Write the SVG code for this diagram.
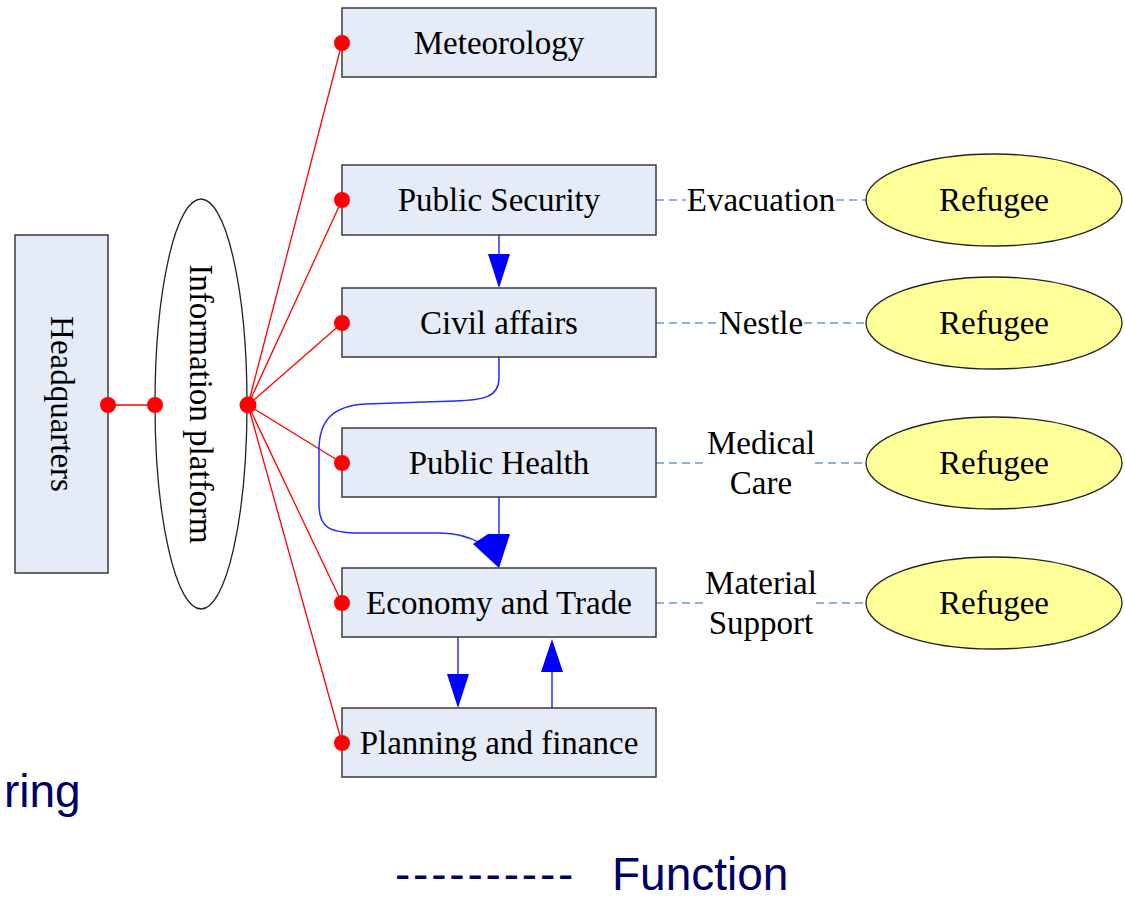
<svg xmlns="http://www.w3.org/2000/svg" width="1125" height="905" viewBox="0 0 1125 905">
<style>
.box{fill:#e6ecf7;stroke:#3a3a3a;stroke-width:1.5}
.t{font-family:"Liberation Serif","Times New Roman",serif;font-size:33px;fill:#000;text-anchor:middle;dominant-baseline:central}
.ref{fill:#ffff99;stroke:#222;stroke-width:1.3}
.red{stroke:#ff0000;stroke-width:1.3;fill:none}
.dot{fill:#ff0000}
.dash{stroke:#7094d4;stroke-width:1.3;stroke-dasharray:8 5;fill:none}
.blue{stroke:#2a2aff;stroke-width:1.5;fill:none}
.head{fill:#0000ff}
.leg{font-family:"Liberation Sans",Arial,sans-serif;font-size:46px;fill:#000066}
</style>
<rect width="1125" height="905" fill="#fff"/>
<g id="connectors">
  <line class="red" x1="108" y1="405" x2="155" y2="405"/>
  <line class="red" x1="248" y1="405" x2="342" y2="43"/>
  <line class="red" x1="248" y1="405" x2="342" y2="200"/>
  <line class="red" x1="248" y1="405" x2="342" y2="323"/>
  <line class="red" x1="248" y1="405" x2="342" y2="463"/>
  <line class="red" x1="248" y1="405" x2="342" y2="603"/>
  <line class="red" x1="248" y1="405" x2="342" y2="743"/>
  <line class="dash" x1="656" y1="200" x2="686" y2="200"/>
  <line class="dash" x1="836" y1="200" x2="866" y2="200"/>
  <line class="dash" x1="656" y1="323" x2="718" y2="323"/>
  <line class="dash" x1="804" y1="323" x2="866" y2="323"/>
  <line class="dash" x1="656" y1="463" x2="706" y2="463"/>
  <line class="dash" x1="815" y1="463" x2="866" y2="463"/>
  <line class="dash" x1="656" y1="603" x2="703" y2="603"/>
  <line class="dash" x1="816" y1="603" x2="866" y2="603"/>
  <line class="blue" x1="499" y1="235" x2="499" y2="256"/>
  <polygon class="head" points="488,254 510,254 499,288"/>
  <path class="blue" d="M499,357 L499,378 C499,398 482,400 455,401 L365,404 C333,406 319,420 319,450 L319,505 C319,528 330,533 360,533 L440,533 C460,533 472,538 482,544"/>
  <line class="blue" x1="499" y1="497" x2="499" y2="536"/>
  <polygon class="head" points="473,544 488,534 510,534 499,568"/>
  <line class="blue" x1="458" y1="637" x2="458" y2="676"/>
  <polygon class="head" points="447,674 469,674 458,708"/>
  <line class="blue" x1="552" y1="708" x2="552" y2="670"/>
  <polygon class="head" points="541,672 563,672 552,639"/>
</g>
<g id="headquarters">
  <rect class="box" x="15" y="235" width="93" height="338"/>
  <text class="t" transform="translate(62,404) rotate(90)" x="0" y="0">Headquarters</text>
</g>
<g id="info-platform">
  <ellipse cx="201" cy="404" rx="46" ry="205" fill="#fff" stroke="#222" stroke-width="1.3"/>
  <text class="t" transform="translate(201,404) rotate(90)" x="0" y="0">Information platform</text>
</g>
<g id="meteorology"><rect class="box" x="342" y="8" width="314" height="69"/><text class="t" x="499" y="43">Meteorology</text></g>
<g id="public-security"><rect class="box" x="342" y="165" width="314" height="70"/><text class="t" x="499" y="200">Public Security</text></g>
<g id="civil-affairs"><rect class="box" x="342" y="288" width="314" height="69"/><text class="t" x="499" y="323">Civil affairs</text></g>
<g id="public-health"><rect class="box" x="342" y="428" width="314" height="69"/><text class="t" x="499" y="463">Public Health</text></g>
<g id="economy-trade"><rect class="box" x="342" y="568" width="314" height="69"/><text class="t" x="499" y="603">Economy and Trade</text></g>
<g id="planning-finance"><rect class="box" x="342" y="708" width="314" height="69"/><text class="t" x="499" y="743">Planning and finance</text></g>
<g id="dots">
  <circle class="dot" cx="108" cy="405" r="8"/>
  <circle class="dot" cx="155" cy="405" r="8"/>
  <circle class="dot" cx="248" cy="405" r="8.5"/>
  <circle class="dot" cx="342" cy="43" r="8"/>
  <circle class="dot" cx="342" cy="200" r="8"/>
  <circle class="dot" cx="342" cy="323" r="8"/>
  <circle class="dot" cx="342" cy="463" r="8"/>
  <circle class="dot" cx="342" cy="603" r="8"/>
  <circle class="dot" cx="342" cy="743" r="8"/>
</g>
<g id="labels">
  <text class="t" x="761" y="200">Evacuation</text>
  <text class="t" x="761" y="323">Nestle</text>
  <text class="t" x="761" y="443">Medical</text>
  <text class="t" x="761" y="483">Care</text>
  <text class="t" x="761" y="583">Material</text>
  <text class="t" x="761" y="623">Support</text>
</g>
<g id="refugee-1"><ellipse class="ref" cx="994" cy="200" rx="128" ry="46"/><text class="t" x="994" y="200">Refugee</text></g>
<g id="refugee-2"><ellipse class="ref" cx="994" cy="323" rx="128" ry="46"/><text class="t" x="994" y="323">Refugee</text></g>
<g id="refugee-3"><ellipse class="ref" cx="994" cy="463" rx="128" ry="46"/><text class="t" x="994" y="463">Refugee</text></g>
<g id="refugee-4"><ellipse class="ref" cx="994" cy="603" rx="128" ry="46"/><text class="t" x="994" y="603">Refugee</text></g>
<g id="legend">
  <text class="leg" x="4" y="807">ring</text>
  <text class="leg" x="395" y="890" letter-spacing="2.8">----------</text>
  <text class="leg" x="612" y="890">Function</text>
</g>
</svg>
